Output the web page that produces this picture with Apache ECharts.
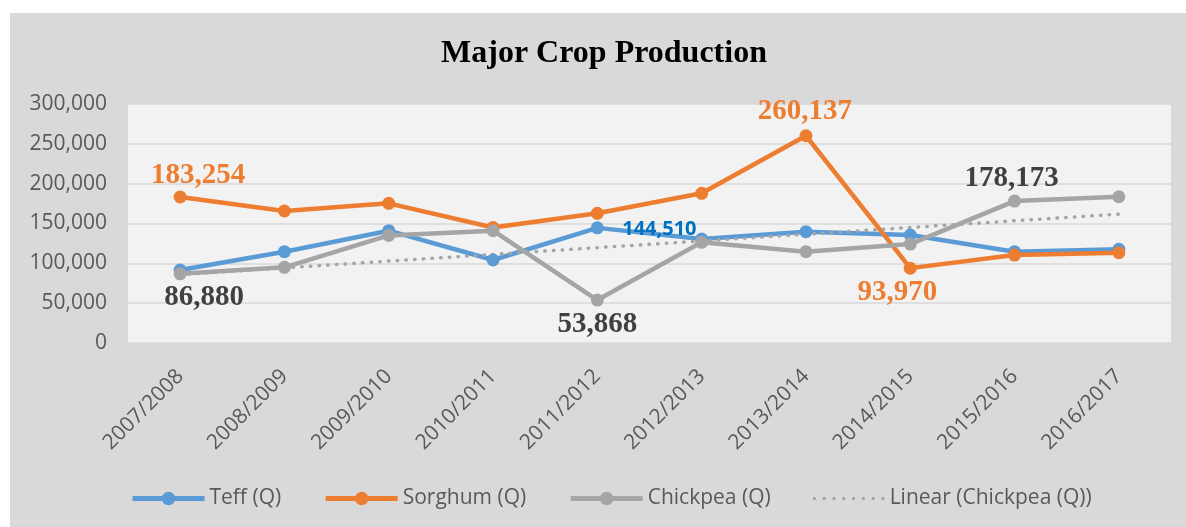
<!DOCTYPE html>
<html>
<head>
<meta charset="utf-8">
<script src="https://cdn.jsdelivr.net/npm/echarts@6/dist/echarts.min.js"></script>
<style>
html,body{margin:0;padding:0;background:#ffffff;}
#chart{width:1186px;height:527px;}
</style>
</head>
<body>
<div id="chart"></div>
<script>
// ---- data ----
const categories = ['2007/2008','2008/2009','2009/2010','2010/2011','2011/2012','2012/2013','2013/2014','2014/2015','2015/2016','2016/2017'];
const teff = [91600, 114600, 141000, 104200, 144510, 130500, 139700, 135600, 114600, 117600];
const sorghum = [183254, 165700, 175300, 145000, 162800, 187900, 260137, 93970, 110400, 113400];
const chickpea = [86880, 95000, 135000, 141000, 53868, 126400, 114600, 124200, 178173, 183600];
const chickpeaTrend = [85900, 94300, 102800, 111200, 119700, 128100, 136500, 145000, 153400, 161800];
const yTicks = [0, 50000, 100000, 150000, 200000, 250000, 300000];
const seriesNames = ['Teff (Q)', 'Sorghum (Q)', 'Chickpea (Q)', 'Linear (Chickpea (Q))'];

// ---- layout / style ----
const labelOffsets = {
  teff: {4: [62, 1]},
  sorghum: {0: [18, -21], 6: [-1, -24], 7: [-13, 24]},
  chickpea: {0: [24, 24], 4: [0, 24], 8: [-3, -23]}
};
const fmt = v => v.toLocaleString('en-US');

function build(values, offsets, labelStyle) {
  return values.map((v, i) => {
    if (offsets[i]) {
      return {
        value: v,
        label: Object.assign({
          show: true, position: 'inside', offset: offsets[i],
          formatter: p => fmt(p.value)
        }, labelStyle)
      };
    }
    return v;
  });
}

// dotted legend icon path (8 small dots)
function dotsPath() {
  const r = 1.7, step = 9.8;
  let d = 'path://';
  for (let k = 0; k < 8; k++) {
    const cx = r + k * step;
    d += 'M' + (cx - r) + ',' + r + 'a' + r + ',' + r + ' 0 1,0 ' + (2 * r) + ',0a' + r + ',' + r + ' 0 1,0 ' + (-2 * r) + ',0Z';
  }
  return d;
}

const serifLabel = c => ({color: c, fontFamily: '"Liberation Serif","Times New Roman",serif', fontWeight: 'bold', fontSize: 29});

const chart = echarts.init(document.getElementById('chart'), null, {renderer: 'canvas'});
const lineSeries = (name, data, color) => ({
  name, type: 'line', data,
  symbol: 'circle', symbolSize: 13,
  lineStyle: {color, width: 4.5},
  itemStyle: {color},
  emphasis: {disabled: true},
  animation: false
});

chart.setOption({
  backgroundColor: '#ffffff',
  animation: false,
  graphic: [{
    type: 'rect', z: -10, silent: true,
    shape: {x: 10, y: 13, width: 1176, height: 514},
    style: {fill: '#D9D9D9'}
  }],
  title: {
    text: 'Major Crop Production',
    left: 599, top: 33, textAlign: 'center',
    textStyle: {fontFamily: '"Liberation Serif","Times New Roman",serif', fontWeight: 'bold', fontSize: 32, color: '#000000'}
  },
  legend: {
    data: [
      {name: seriesNames[0]},
      {name: seriesNames[1]},
      {name: seriesNames[2]},
      {name: seriesNames[3], icon: dotsPath(), itemStyle: {color: '#A5A5A5'}}
    ],
    left: 130, top: 488, padding: 0,
    itemWidth: 72, itemHeight: 17, itemGap: 42,
    symbolKeepAspect: true,
    lineStyle: {width: 5},
    textStyle: {fontFamily: '"Open Sans"', fontSize: 21, color: '#595959'}
  },
  grid: {left: 128, right: 15, top: 104, bottom: 184, show: true, backgroundColor: '#F2F2F2', borderWidth: 0},
  xAxis: {
    type: 'category', data: categories, boundaryGap: true,
    axisLine: {show: false}, axisTick: {show: false},
    axisLabel: {rotate: 45, margin: 30, color: '#595959', fontFamily: '"Open Sans"', fontSize: 21, interval: 0}
  },
  yAxis: {
    type: 'value', min: yTicks[0], max: yTicks[yTicks.length - 1], interval: yTicks[1] - yTicks[0],
    axisLine: {show: false}, axisTick: {show: false},
    axisLabel: {margin: 21, color: '#595959', fontFamily: '"Open Sans"', fontSize: 21, formatter: v => fmt(v)},
    splitLine: {lineStyle: {color: '#D9D9D9', width: 1.5}}
  },
  series: [
    lineSeries(seriesNames[0], build(teff, labelOffsets.teff, {color: '#0070C0', fontFamily: '"Open Sans"', fontWeight: 'bold', fontSize: 20}), '#5B9BD5'),
    lineSeries(seriesNames[1], build(sorghum, labelOffsets.sorghum, serifLabel('#ED7D31')), '#ED7D31'),
    lineSeries(seriesNames[2], build(chickpea, labelOffsets.chickpea, serifLabel('#404040')), '#A5A5A5'),
    {
      name: seriesNames[3], type: 'line', data: chickpeaTrend,
      symbol: 'none', showSymbol: false,
      lineStyle: {color: '#A5A5A5', width: 3.5, type: [0.5, 8.2], cap: 'round'},
      itemStyle: {color: '#A5A5A5'},
      emphasis: {disabled: true}, animation: false
    }
  ]
});
</script>
</body>
</html>
